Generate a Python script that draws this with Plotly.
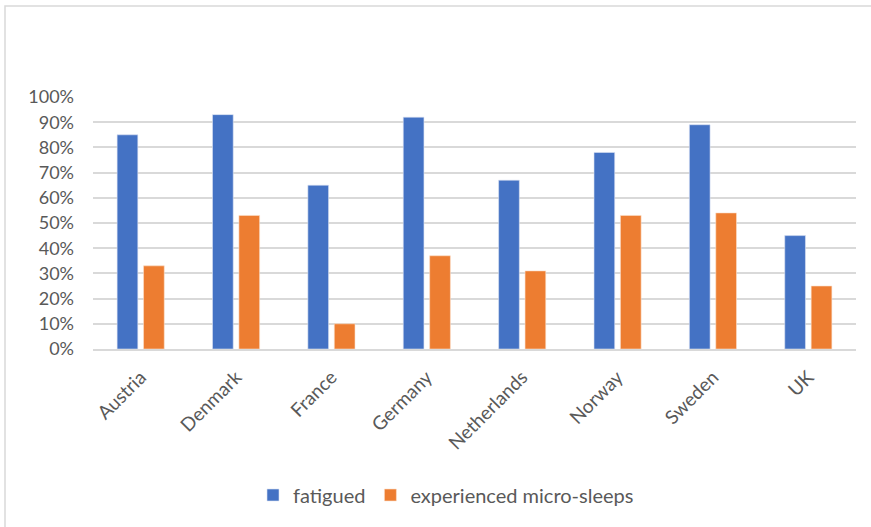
import plotly.graph_objects as go

# Survey results by country (share of drivers, %)
countries = ["Austria", "Denmark", "France", "Germany", "Netherlands", "Norway", "Sweden", "UK"]
fatigued = [85, 93, 65, 92, 67, 78, 89, 45]
micro_sleeps = [33, 53, 10, 37, 31, 53, 54, 25]
y_ticks = list(range(0, 101, 10))
y_tick_labels = [f"{v}%" for v in y_ticks]

BLUE = "#4472c4"
ORANGE = "#ed7d31"
GRID = "#d9d9d9"
TEXT = "#595959"
FONT = "Lato, 'Open Sans', sans-serif"

W, H = 871, 527
# plot area in pixels
PX0, PX1, PY0, PY1 = 93, 856, 97, 349

fig = go.Figure()
fig.add_trace(go.Bar(name="fatigued", x=countries, y=fatigued,
                     marker=dict(color=BLUE, line=dict(color="#dbe3f3", width=0.6))))
fig.add_trace(go.Bar(name="experienced micro-sleeps", x=countries, y=micro_sleeps,
                     marker=dict(color=ORANGE, line=dict(color="#fbe0cc", width=0.6))))


def px_to_paper_x(px):
    return (px - PX0) / (PX1 - PX0)


def px_to_paper_y(py):
    return (PY1 - py) / (PY1 - PY0)


# chart-area frame
fig.add_shape(type="rect", xref="paper", yref="paper", layer="below",
              x0=px_to_paper_x(5), x1=px_to_paper_x(W + 10),
              y0=px_to_paper_y(H + 10), y1=px_to_paper_y(6),
              line=dict(color=GRID, width=1.5), fillcolor="rgba(0,0,0,0)")

fig.update_layout(
    width=W, height=H,
    margin=dict(l=PX0, r=W - PX1, t=PY0, b=H - PY1),
    paper_bgcolor="white", plot_bgcolor="white",
    barmode="group", bargap=0.446, bargroupgap=0.216,
    font=dict(family=FONT, color=TEXT, size=19),
    showlegend=True,
    legend=dict(orientation="h", x=px_to_paper_x(446), xanchor="center",
                y=px_to_paper_y(495), yanchor="middle",
                font=dict(size=20, color=TEXT), itemwidth=30,
                traceorder="normal"),
    xaxis=dict(showgrid=False, showline=True, linecolor=GRID, linewidth=1.5,
               tickangle=-45, ticks="", ticklabelstandoff=8,
               tickfont=dict(size=19, color=TEXT)),
    yaxis=dict(range=[0, 100], tickmode="array", tickvals=y_ticks,
               ticktext=y_tick_labels,
               showgrid=True, gridcolor=GRID, gridwidth=1.5,
               zeroline=False, showline=False, ticks="",
               ticklabelstandoff=18, tickfont=dict(size=18, color=TEXT)),
)

fig.write_html("out.html")
